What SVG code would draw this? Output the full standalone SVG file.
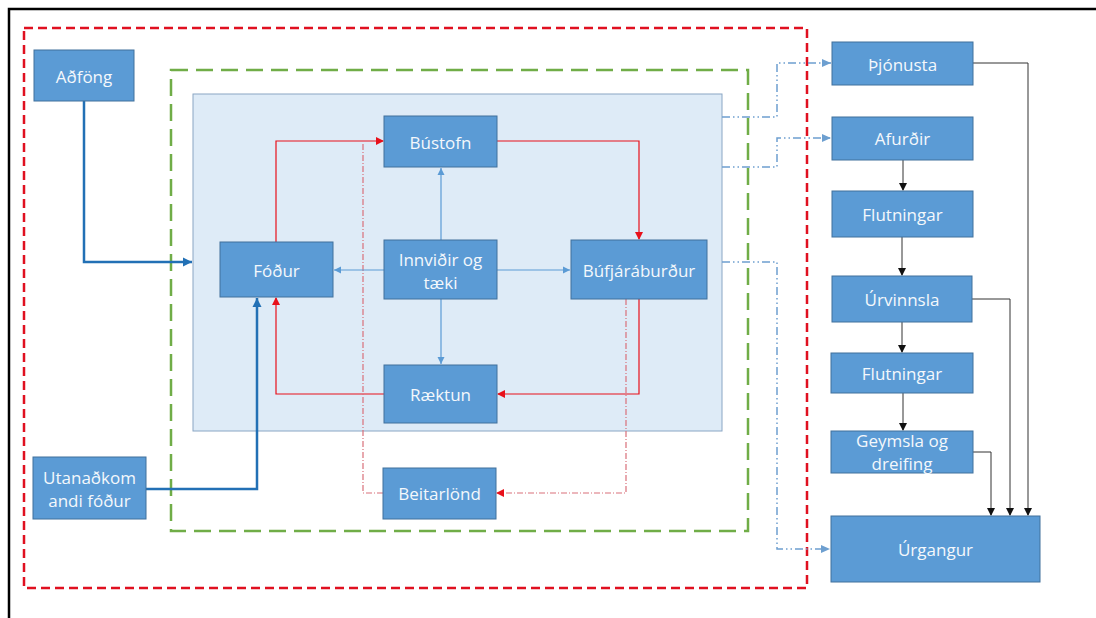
<svg xmlns="http://www.w3.org/2000/svg" width="1096" height="618" viewBox="0 0 1096 618">
<style>
.box{fill:#5b9bd5;stroke:#41719c;stroke-width:1}
.t{font-family:"Open Sans","Liberation Sans",sans-serif;font-size:17px;fill:#f4f8fc;text-anchor:middle;dominant-baseline:central}
.red{fill:none;stroke:#e8101a;stroke-width:1.2}
.reddd{fill:none;stroke:#d9707a;stroke-width:1.2;stroke-dasharray:6 2 1 2}
.blue{fill:none;stroke:#5b9bd5;stroke-width:1.2}
.thick{fill:none;stroke:#2270b5;stroke-width:2.5}
.bdd{fill:none;stroke:#6d9fd0;stroke-width:1.5;stroke-dasharray:8 3 1.5 3 1.5 3}
.blk{fill:none;stroke:#333;stroke-width:1}
</style>
<defs>
<marker id="ar" markerWidth="8" markerHeight="8" refX="7" refY="4" orient="auto" markerUnits="userSpaceOnUse"><path d="M0,0 L8,4 L0,8 z" fill="#e8101a"/></marker>
<marker id="ab" markerWidth="8" markerHeight="8" refX="7" refY="4" orient="auto" markerUnits="userSpaceOnUse"><path d="M0,0.5 L7,4 L0,7.5 z" fill="#5b9bd5"/></marker>
<marker id="at" markerWidth="10" markerHeight="10" refX="9" refY="5" orient="auto" markerUnits="userSpaceOnUse"><path d="M0,0.5 L9,5 L0,9.5 z" fill="#2270b5"/></marker>
<marker id="ak" markerWidth="8" markerHeight="8" refX="7" refY="4" orient="auto" markerUnits="userSpaceOnUse"><path d="M0,0 L8,4 L0,8 z" fill="#111"/></marker>
<marker id="ad" markerWidth="10" markerHeight="10" refX="9" refY="5" orient="auto" markerUnits="userSpaceOnUse"><path d="M0,1 L9,5 L0,9 z" fill="#6d9fd0"/></marker>
</defs>
<rect width="1096" height="618" fill="#fff"/>
<path d="M9,620 L9,9 L1096,9" fill="none" stroke="#000" stroke-width="2.5"/>
<rect x="24" y="28" width="783" height="560" fill="none" stroke="#e01020" stroke-width="2.5" stroke-dasharray="9 5"/>
<rect x="171" y="70" width="577" height="461" fill="none" stroke="#70ad47" stroke-width="2.5" stroke-dasharray="17 8"/>
<rect x="193" y="94" width="529" height="337" fill="#deebf7" stroke="#8aa6c4" stroke-width="1"/>
<g id="connectors">
<path class="thick" d="M84,101 V262 H192" marker-end="url(#at)"/>
<path class="thick" d="M146,489 H257 V298" marker-end="url(#at)"/>
<path class="red" d="M276,242 V141 H383" marker-end="url(#ar)"/>
<path class="red" d="M497,141 H639 V239" marker-end="url(#ar)"/>
<path class="red" d="M639,299 V394 H498" marker-end="url(#ar)"/>
<path class="red" d="M384,394 H276 V298" marker-end="url(#ar)"/>
<path class="reddd" d="M363,144 V493 H383"/>
<path class="reddd" d="M626,299 V493 H497" marker-end="url(#ar)"/>
<path class="blue" d="M441,240 V168" marker-end="url(#ab)"/>
<path class="blue" d="M384,270 H334" marker-end="url(#ab)"/>
<path class="blue" d="M497,270 H570" marker-end="url(#ab)"/>
<path class="blue" d="M441,299 V364" marker-end="url(#ab)"/>
<path class="bdd" d="M722,117 H777 V63 H831" marker-end="url(#ad)"/>
<path class="bdd" d="M722,167 H777 V138 H831" marker-end="url(#ad)"/>
<path class="bdd" d="M722,262 H777 V549 H830" marker-end="url(#ad)"/>
<path class="blk" d="M903,160 V190" marker-end="url(#ak)"/>
<path class="blk" d="M902,237 V275" marker-end="url(#ak)"/>
<path class="blk" d="M902,322 V352" marker-end="url(#ak)"/>
<path class="blk" d="M903,393 V430" marker-end="url(#ak)"/>
<path class="blk" d="M973,63 H1028 V515" marker-end="url(#ak)"/>
<path class="blk" d="M972,299 H1010 V515" marker-end="url(#ak)"/>
<path class="blk" d="M973,452 H991 V515" marker-end="url(#ak)"/>
</g>
<g id="afong"><rect class="box" x="34" y="50" width="100" height="51"/><text class="t" x="84" y="76">Aðföng</text></g>
<g id="fodur"><rect class="box" x="220" y="242" width="113" height="55"/><text class="t" x="276.5" y="270">Fóður</text></g>
<g id="bustofn"><rect class="box" x="384" y="116" width="113" height="51"/><text class="t" x="440.5" y="142">Bústofn</text></g>
<g id="innvidir"><rect class="box" x="384" y="240" width="113" height="59"/><text class="t" x="440.5" y="259">Innviðir og</text><text class="t" x="440.5" y="282">tæki</text></g>
<g id="bufjar"><rect class="box" x="571" y="240" width="136" height="59"/><text class="t" x="639" y="270">Búfjáráburður</text></g>
<g id="raektun"><rect class="box" x="384" y="365" width="113" height="58"/><text class="t" x="440.5" y="394">Ræktun</text></g>
<g id="beitarlond"><rect class="box" x="383" y="468" width="113" height="51"/><text class="t" x="439.5" y="493">Beitarlönd</text></g>
<g id="utanadkomandi"><rect class="box" x="33" y="457" width="113" height="62"/><text class="t" x="89.5" y="477">Utanaðkom</text><text class="t" x="89.5" y="500">andi fóður</text></g>
<g id="thjonusta"><rect class="box" x="832" y="42" width="141" height="43"/><text class="t" x="902.5" y="64">Þjónusta</text></g>
<g id="afurdir"><rect class="box" x="832" y="117" width="141" height="43"/><text class="t" x="902.5" y="138">Afurðir</text></g>
<g id="flutningar1"><rect class="box" x="832" y="191" width="141" height="46"/><text class="t" x="902.5" y="214">Flutningar</text></g>
<g id="urvinnsla"><rect class="box" x="832" y="276" width="140" height="46"/><text class="t" x="902" y="299">Úrvinnsla</text></g>
<g id="flutningar2"><rect class="box" x="831" y="353" width="142" height="40"/><text class="t" x="902" y="373">Flutningar</text></g>
<g id="geymsla"><rect class="box" x="831" y="431" width="142" height="42"/><text class="t" x="902" y="440">Geymsla og</text><text class="t" x="902" y="463">dreifing</text></g>
<g id="urgangur"><rect class="box" x="831" y="516" width="209" height="66"/><text class="t" x="935.5" y="549">Úrgangur</text></g>
</svg>
